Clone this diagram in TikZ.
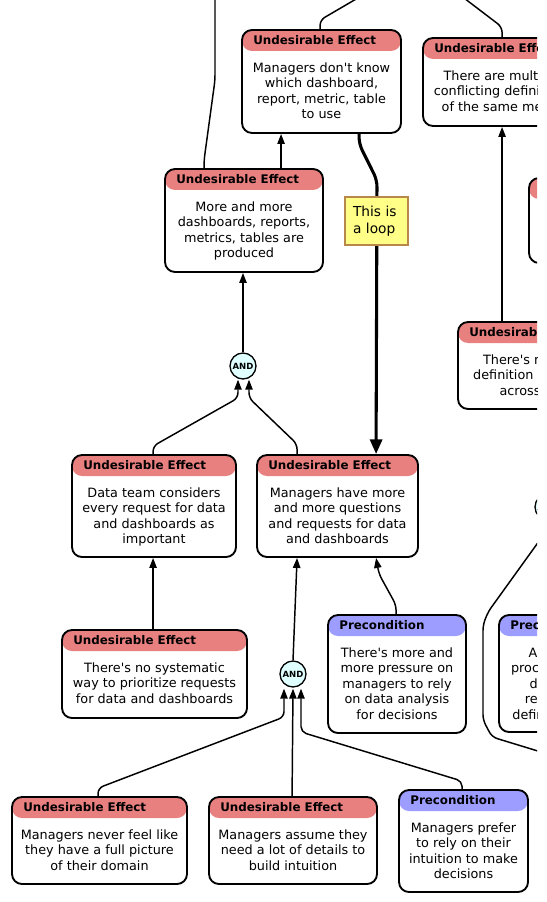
\documentclass[tikz,border=0pt]{standalone}
\usepackage{fontspec}
\setmainfont{DejaVu Sans}
\usetikzlibrary{arrows.meta,calc}
\definecolor{uered}{RGB}{232,128,128}
\definecolor{prebl}{RGB}{157,157,255}
\definecolor{andfill}{RGB}{224,255,255}
\definecolor{notefill}{RGB}{255,255,136}
\definecolor{noteedge}{RGB}{184,135,74}
\newcommand{\ap}{\textquotesingle}
\tikzset{
  crtbox/.style={draw, line width=1.4pt, rounded corners=7.5pt, fill=white, inner sep=0pt,
    path picture={\fill[#1] (path picture bounding box.north west) rectangle ([yshift=-15.75pt]path picture bounding box.north east);}},
  uebox/.style={crtbox=uered},
  prebox/.style={crtbox=prebl},
  titletext/.style={anchor=west, inner sep=0pt, font=\fontsize{8.9}{10}\selectfont\bfseries},
  bodytext/.style={anchor=north, inner sep=0pt, align=center, font=\fontsize{9.6}{11.7}\selectfont},
  andnode/.style={circle, draw, line width=1pt, fill=andfill, minimum size=19.5pt, inner sep=0pt, font=\fontsize{6.4}{7}\selectfont\bfseries},
  notebox/.style={draw=noteedge, line width=0.8pt, fill=notefill, minimum width=47.25pt, minimum height=36pt, inner xsep=6pt, text width=35.25pt, align=left, font=\fontsize{10.3}{12.75}\selectfont},
  conn/.style={line width=1.1pt, rounded corners=4pt},
  arr/.style={conn, -{Triangle[width=5.5pt,length=7.5pt]}},
  thickarr/.style={line width=2.3pt, rounded corners=5pt, -{Triangle[width=9pt,length=11pt]}}
}
\newcommand{\crtnode}[8]{%
  \node[#6, minimum width={(#4-#2)*0.75pt}, minimum height={(#5-#3)*0.75pt}] (#1) at ({(#2+#4)/2},{(#3+#5)/2}) {};
  \node[titletext] (#1-t) at ($(#1.north west)+(12,11)$) {#7};
  \node[bodytext] (#1-b) at ($(#1.north)+(0,33)$) {#8};
}
\begin{document}
\begin{tikzpicture}[x=0.75pt,y=-0.75pt]
\useasboundingbox (0,0) rectangle (546,902);
\clip (0,0) rectangle (537,902);
% free ends of connectors leaving the picture
\coordinate (topA) at (215,-10);
\coordinate (topB) at (363,-5);
\coordinate (topC) at (460,-5);
\coordinate (ext4) at (600,770);
% AND nodes
\node[andnode] (and1) at (243,366) {AND};
\node[andnode] (and2) at (293,674) {AND};
\node[andnode] (and3) at (548,507) {AND};
% boxes
\crtnode{n1}{242}{30}{401}{133}{uebox}{Undesirable Effect}{Managers don\ap t know\\which dashboard,\\report, metric, table\\to use}
\crtnode{n2}{423}{38}{582}{126}{uebox}{Undesirable Effect}{There are multiple\\conflicting definitions\\of the same metric}
\crtnode{n3}{165}{169}{323}{272}{uebox}{Undesirable Effect}{More and more\\dashboards, reports,\\metrics, tables are\\produced}
\crtnode{n5}{529}{178}{690}{263}{uebox}{Undesirable Effect}{}
\crtnode{n6}{458}{322}{617}{409}{uebox}{Undesirable Effect}{There\ap s no single\\definition of metrics\\across tools}
\crtnode{n8}{72}{455}{236}{557}{uebox}{Undesirable Effect}{Data team considers\\every request for data\\and dashboards as\\important}
\crtnode{n9}{257}{455}{418}{557}{uebox}{Undesirable Effect}{Managers have more\\and more questions\\and requests for data\\and dashboards}
\crtnode{n11}{62}{630}{247}{718}{uebox}{Undesirable Effect}{There\ap s no systematic\\way to prioritize requests\\for data and dashboards}
\crtnode{n13}{328}{615}{466}{733}{prebox}{Precondition}{There\ap s more and\\more pressure on\\managers to rely\\on data analysis\\for decisions}
\crtnode{n14}{499}{615}{637}{732}{prebox}{Precondition}{A real triage\\process to handle\\data or new\\requests isn\ap t\\defined and used}
\crtnode{n15}{12}{797}{187}{884}{uebox}{Undesirable Effect}{Managers never feel like\\they have a full picture\\of their domain}
\crtnode{n16}{209}{797}{377}{884}{uebox}{Undesirable Effect}{Managers assume they\\need a lot of details to\\build intuition}
\crtnode{n17}{399}{790}{528}{892}{prebox}{Precondition}{Managers prefer\\to rely on their\\intuition to make\\decisions}
% connectors
\draw[conn] ($(n3.north west)+(40,0)$) -- ++(0,-8) -- (215,80) -- (topA);
\draw[conn] ($(n1.north west)+(79,0)$) -- ++(0,-9) -- (topB);
\draw[conn] ($(n2.north west)+(80,0)$) -- ++(0,-10) -- (topC);
\draw[arr] ($(n3.north west)+(117,0)$) -- ($(n1.south west)+(40,0)$);
\draw[thickarr] ($(n1.south west)+(118,0)$) -- ++(0,10) -- (377,180) -- ($(n9.north west)+(120,0)$);
\draw[arr] ($(n6.north west)+(45,0)$) -- ($(n2.south west)+(80,0)$);
\draw[arr] (and1.north) -- (and1 |- n3.south);
\draw[arr] ($(n8.north west)+(82,0)$) -- ++(0,-8) -- ($(and1)+(-5,32)$) -- ($(and1.south)+(-5,0)$);
\draw[arr] ($(n9.north west)+(41,0)$) -- ++(0,-10) -- ($(and1)+(6,32)$) -- ($(and1.south)+(6,0)$);
\draw[arr] ($(n11.north west)+(92,0)$) -- ($(n8.south west)+(82,0)$);
\draw[arr] (and2.north) -- ($(n9.south west)+(41,0)$);
\draw[arr] ($(n13.north west)+(69,0)$) -- ++(0,-9) -- (379,574) -- ($(n9.south west)+(120,0)$);
\draw[arr] ($(n15.north west)+(87,0)$) -- ++(0,-8) -- ($(and2)+(-9,43)$) -- ($(and2.south)+(-9,1)$);
\draw[arr] ($(n16.north west)+(84,0)$) -- ($(and2.south)+(0,1)$);
\draw[arr] ($(n17.north west)+(64,0)$) -- ++(0,-8) -- ($(and2)+(8,58)$) -- ($(and2.south)+(8,1)$);
\draw[arr] (ext4) -- (492,737) -- (483,720) -- (483,625) -- (488,612) -- ($(and3.south)+(0,8)$) -- (and3.south);
% note on top of the thick line
\node[notebox] (note) at (376.5,221) {This is\\a loop};
\end{tikzpicture}
\end{document}
